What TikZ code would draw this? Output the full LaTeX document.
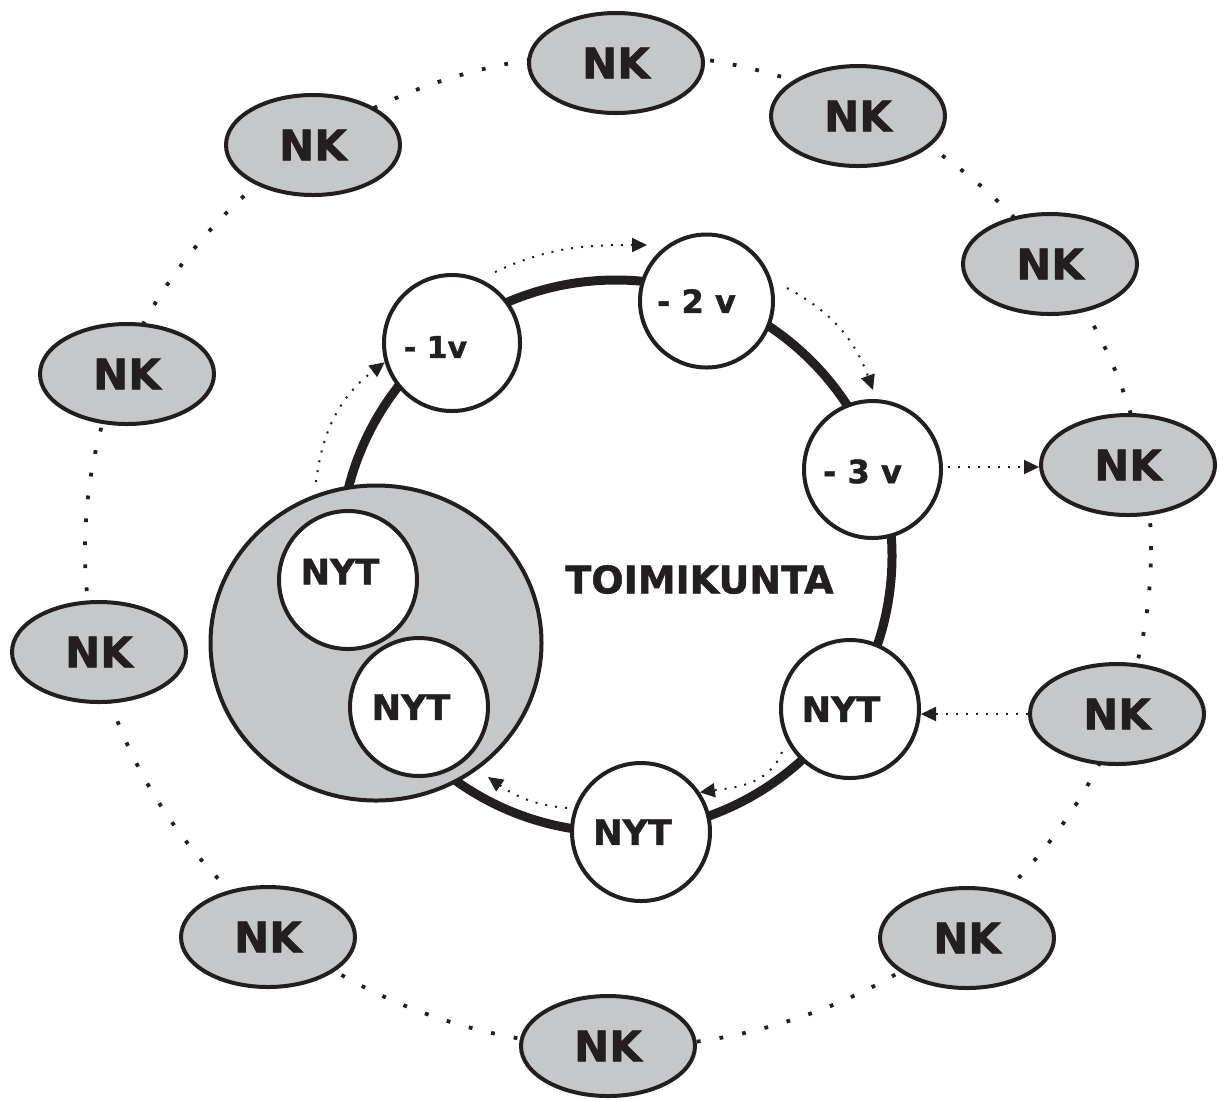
\documentclass[tikz,border=0pt]{standalone}
\usepackage{fontspec}
\setmainfont{DejaVu Sans}[BoldFeatures={FakeBold=1.3}]
\usetikzlibrary{arrows.meta,shapes.geometric}
\definecolor{ink}{HTML}{231F20}
\definecolor{fillgray}{HTML}{C6C7C9}
\begin{document}
\begin{tikzpicture}[x=0.5pt,y=-0.5pt,
  nk/.style={ellipse,draw=ink,fill=fillgray,line width=2pt,minimum width=87pt,minimum height=50pt,inner sep=0pt,font=\fontsize{21}{21}\selectfont\bfseries,text=ink},
  yr/.style={circle,draw=ink,fill=white,line width=2pt,minimum size=68pt,inner sep=0pt},
  tl/.style={font=\fontsize{17.5}{17.5}\selectfont\bfseries,text=ink,inner sep=0pt},
  vl/.style={font=\fontsize{16}{16}\selectfont\bfseries,text=ink,inner sep=0pt},
  flow/.style={draw=ink,line width=1pt,dash pattern=on 1pt off 4pt,-{Triangle[length=7.5pt,width=7pt]}},
  ringline/.style={draw=ink,line width=4.5pt},
  outerring/.style={draw=ink,line width=1.9pt,dash pattern=on 1.9pt off 9.6pt}]

\useasboundingbox (0,0) rectangle (1220,1100);

% outer dotted ring
\coordinate (oc) at (618,550);
\draw[outerring] (oc) ellipse [x radius=266.5pt, y radius=248.5pt];

% NK nodes
\node[nk] (nk1) at (616,63) {NK};
\node[nk] (nk2) at (858,116) {NK};
\node[nk] (nk3) at (1050,264) {NK};
\node[nk] (nk4) at (1128,465) {NK};
\node[nk] (nk5) at (1117,714) {NK};
\node[nk] (nk6) at (967,938) {NK};
\node[nk] (nk7) at (608,1046) {NK};
\node[nk] (nk8) at (268,937) {NK};
\node[nk] (nk9) at (99,652) {NK};
\node[nk] (nk10) at (127,374) {NK};
\node[nk] (nk11) at (313,145) {NK};

% thick ring
\coordinate (rc) at (616,556);
\draw[ringline] (rc) circle [radius=138pt];

% gray group
\node[ellipse,draw=ink,fill=fillgray,line width=2pt,minimum width=165.5pt,minimum height=157.5pt,inner sep=0pt] (grp) at (376,643) {};
\node[yr,minimum size=69pt,label={[tl,xshift=-4pt,yshift=4.25pt]center:NYT}] (n1) at (348,580) {};
\node[yr,minimum size=69pt,label={[tl,xshift=-4pt]center:NYT}] (n2) at (419,707) {};

% ring members
\node[yr,label={[vl,font=\fontsize{15}{15}\selectfont\bfseries,xshift=-8.25pt,yshift=-2pt]center:- 1v}] (m1) at (452,343) {};
\node[yr,minimum size=66.5pt,label={[vl,xshift=-5pt]center:- 2 v}] (m2) at (706.5,301) {};
\node[yr,minimum size=68.5pt,label={[vl,xshift=-5pt,yshift=-1pt]center:- 3 v}] (m3) at (872.5,469.5) {};
\node[yr,minimum size=69pt,label={[tl,xshift=-4.5pt]center:NYT}] (nytr) at (850,709) {};
\node[yr,minimum size=69pt,label={[tl,xshift=-4.25pt]center:NYT}] (nytb) at (641,832) {};

\node[font=\fontsize{19}{19}\selectfont\bfseries,text=ink,inner sep=0pt] (tk) at (699.5,579.5) {TOIMIKUNTA};

% arrow end points
\coordinate (a1s) at ([shift={(-60,-161)}]grp.center);
\coordinate (a2s) at ([shift={(43,-71)}]m1.center);
\coordinate (a2e) at ([shift={(-59.5,-56)}]m2.center);
\coordinate (a3s) at ([shift={(80.5,-13)}]m2.center);
\coordinate (a3e) at ([shift={(0.5,-79.5)}]m3.center);
\coordinate (a4s) at ([shift={(75.5,-2.5)}]m3.center);
\coordinate (a6s) at ([shift={(-68,43)}]nytr.center);
\coordinate (a7s) at ([shift={(-74,-24)}]nytb.center);
\coordinate (a7e) at ([shift={(112,134)}]grp.center);

% arrows
\draw[flow] (a1s) to[bend left=23] (m1.196);
\draw[flow] (a2s) to[out=25,in=180] (a2e);
\draw[flow] (a3s) to[out=-28,in=110] (a3e);
\draw[flow] (a4s) -- (a4s -| nk4.west);
\draw[flow] (nk5.west) -- (nk5.west -| nytr.east);
\draw[flow] (a6s) to[out=-112,in=8] (nytb.34.5);
\draw[flow] (a7s) to[out=175,in=-35] (a7e);
\end{tikzpicture}
\end{document}
